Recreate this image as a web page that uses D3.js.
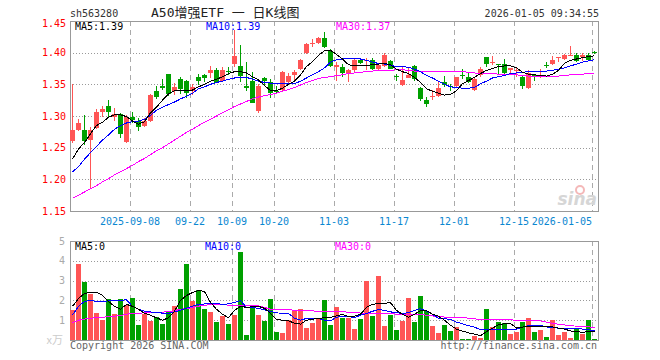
<html>

<head>
  <title>A50增强ETF 日K线图</title>
  <script src="https://d3js.org/d3.v7.min.js"></script>
  <style>
    body { margin: 0; background: #fff; }
  </style>
</head>

<body>
  <div id="chart"></div>

  <script type="text/javascript">

    // Trading days shown on the chart
    var dates = [
      '2025-08-25', '2025-08-26', '2025-08-27', '2025-08-28', '2025-08-29',
      '2025-09-01', '2025-09-02', '2025-09-03', '2025-09-04', '2025-09-05',
      '2025-09-08', '2025-09-09', '2025-09-10', '2025-09-11', '2025-09-12',
      '2025-09-15', '2025-09-16', '2025-09-17', '2025-09-18', '2025-09-19',
      '2025-09-22', '2025-09-23', '2025-09-24', '2025-09-25', '2025-09-26',
      '2025-09-29', '2025-09-30', '2025-10-09', '2025-10-10',
      '2025-10-13', '2025-10-14', '2025-10-15', '2025-10-16', '2025-10-17',
      '2025-10-20', '2025-10-21', '2025-10-22', '2025-10-23', '2025-10-24',
      '2025-10-27', '2025-10-28', '2025-10-29', '2025-10-30', '2025-10-31',
      '2025-11-03', '2025-11-04', '2025-11-05', '2025-11-06', '2025-11-07',
      '2025-11-10', '2025-11-11', '2025-11-12', '2025-11-13', '2025-11-14',
      '2025-11-17', '2025-11-18', '2025-11-19', '2025-11-20', '2025-11-21',
      '2025-11-24', '2025-11-25', '2025-11-26', '2025-11-27', '2025-11-28',
      '2025-12-01', '2025-12-02', '2025-12-03', '2025-12-04', '2025-12-05',
      '2025-12-08', '2025-12-09', '2025-12-10', '2025-12-11', '2025-12-12',
      '2025-12-15', '2025-12-16', '2025-12-17', '2025-12-18', '2025-12-19',
      '2025-12-22', '2025-12-23', '2025-12-24', '2025-12-25', '2025-12-26',
      '2025-12-29', '2025-12-30', '2025-12-31', '2026-01-05'
    ];

    var openP = [
      1.260, 1.278, 1.278, 1.262, 1.281, 1.306, 1.315, 1.299, 1.303, 1.259,
      1.299, 1.292, 1.284, 1.292, 1.340, 1.347, 1.367, 1.339, 1.358, 1.355,
      1.339, 1.361, 1.365, 1.368, 1.373, 1.355, 1.371, 1.381, 1.379, 1.347,
      1.356, 1.307, 1.360, 1.353, 1.340, 1.340, 1.353, 1.365, 1.374, 1.399,
      1.414, 1.415, 1.423, 1.403, 1.378, 1.377, 1.365, 1.372, 1.388, 1.388,
      1.389, 1.375, 1.379, 1.387, 1.363, 1.349, 1.361, 1.379, 1.344, 1.326,
      1.330, 1.332, 1.354, 1.348, 1.347, 1.365, 1.361, 1.341, 1.365, 1.393,
      1.385, 1.382, 1.382, 1.372, 1.372, 1.361, 1.344, 1.364, 1.364, 1.381,
      1.382, 1.392, 1.389, 1.396, 1.396, 1.393, 1.396, 1.401
    ];
    var highP = [
      1.350, 1.295, 1.301, 1.283, 1.311, 1.315, 1.325, 1.312, 1.304, 1.301,
      1.306, 1.297, 1.297, 1.334, 1.347, 1.358, 1.367, 1.352, 1.361, 1.357,
      1.350, 1.367, 1.367, 1.379, 1.375, 1.377, 1.378, 1.436, 1.412, 1.386,
      1.369, 1.350, 1.362, 1.358, 1.347, 1.371, 1.368, 1.372, 1.390, 1.416,
      1.421, 1.424, 1.432, 1.405, 1.386, 1.382, 1.374, 1.390, 1.391, 1.391,
      1.391, 1.382, 1.399, 1.389, 1.367, 1.377, 1.377, 1.381, 1.346, 1.330,
      1.341, 1.354, 1.363, 1.351, 1.361, 1.374, 1.368, 1.360, 1.377, 1.393,
      1.395, 1.382, 1.390, 1.376, 1.375, 1.363, 1.372, 1.367, 1.374, 1.386,
      1.395, 1.393, 1.398, 1.410, 1.399, 1.400, 1.400, 1.402
    ];
    var lowP = [
      1.258, 1.277, 1.254, 1.185, 1.280, 1.298, 1.297, 1.292, 1.266, 1.258,
      1.289, 1.276, 1.283, 1.291, 1.327, 1.341, 1.331, 1.333, 1.334, 1.329,
      1.333, 1.349, 1.353, 1.360, 1.352, 1.353, 1.365, 1.378, 1.353, 1.339,
      1.320, 1.305, 1.347, 1.328, 1.337, 1.339, 1.350, 1.354, 1.373, 1.398,
      1.409, 1.413, 1.408, 1.378, 1.356, 1.361, 1.353, 1.370, 1.382, 1.372,
      1.372, 1.372, 1.378, 1.374, 1.356, 1.348, 1.360, 1.356, 1.324, 1.314,
      1.325, 1.330, 1.346, 1.340, 1.346, 1.358, 1.352, 1.339, 1.362, 1.378,
      1.381, 1.367, 1.367, 1.366, 1.361, 1.343, 1.343, 1.356, 1.360, 1.375,
      1.381, 1.386, 1.388, 1.394, 1.386, 1.387, 1.387, 1.398
    ];
    var closeP = [
      1.278, 1.289, 1.260, 1.278, 1.306, 1.311, 1.306, 1.303, 1.272, 1.298,
      1.294, 1.282, 1.292, 1.333, 1.331, 1.344, 1.336, 1.346, 1.343, 1.336,
      1.346, 1.354, 1.361, 1.372, 1.353, 1.372, 1.370, 1.394, 1.363, 1.344,
      1.321, 1.347, 1.355, 1.335, 1.339, 1.369, 1.363, 1.370, 1.388, 1.414,
      1.416, 1.423, 1.409, 1.379, 1.381, 1.367, 1.372, 1.388, 1.384, 1.389,
      1.374, 1.381, 1.396, 1.375, 1.362, 1.357, 1.365, 1.358, 1.326, 1.320,
      1.331, 1.344, 1.349, 1.347, 1.361, 1.364, 1.353, 1.358, 1.374, 1.382,
      1.386, 1.381, 1.368, 1.375, 1.373, 1.347, 1.368, 1.363, 1.365, 1.380,
      1.389, 1.393, 1.396, 1.397, 1.387, 1.396, 1.388, 1.400
    ];

    // Moving averages as drawn on the chart
    var ma5 = [
      1.232, 1.248, 1.258, 1.272, 1.285, 1.290, 1.298, 1.302, 1.302, 1.299,
      1.292, 1.287, 1.291, 1.305, 1.314, 1.325, 1.335, 1.340, 1.341, 1.341,
      1.341, 1.346, 1.350, 1.355, 1.358, 1.362, 1.367, 1.370, 1.370, 1.368,
      1.362, 1.357, 1.348, 1.340, 1.340, 1.344, 1.350, 1.355, 1.365, 1.378,
      1.386, 1.396, 1.403, 1.404, 1.397, 1.390, 1.381, 1.379, 1.379, 1.380,
      1.381, 1.382, 1.383, 1.381, 1.374, 1.370, 1.367, 1.361, 1.353, 1.343,
      1.339, 1.336, 1.333, 1.334, 1.340, 1.351, 1.356, 1.361, 1.367, 1.372,
      1.375, 1.378, 1.379, 1.379, 1.376, 1.369, 1.366, 1.365, 1.364, 1.363,
      1.366, 1.372, 1.383, 1.388, 1.390, 1.392, 1.394, 1.395
    ];
    var ma10 = [
      1.212, 1.220, 1.232, 1.242, 1.252, 1.262, 1.270, 1.279, 1.285, 1.289,
      1.291, 1.292, 1.295, 1.301, 1.309, 1.314, 1.318, 1.322, 1.327, 1.331,
      1.336, 1.343, 1.346, 1.350, 1.353, 1.355, 1.358, 1.360, 1.361, 1.361,
      1.358, 1.355, 1.353, 1.352, 1.352, 1.352, 1.352, 1.351, 1.355, 1.360,
      1.365, 1.370, 1.376, 1.385, 1.389, 1.390, 1.391, 1.391, 1.390, 1.388,
      1.385, 1.383, 1.382, 1.380, 1.378, 1.378, 1.377, 1.374, 1.370, 1.364,
      1.360, 1.355, 1.350, 1.346, 1.345, 1.344, 1.344, 1.345, 1.351, 1.355,
      1.360, 1.362, 1.364, 1.367, 1.368, 1.369, 1.370, 1.370, 1.370, 1.371,
      1.372, 1.374, 1.376, 1.379, 1.382, 1.385, 1.387, 1.389
    ];
    var ma30 = [
      1.170, 1.175, 1.180, 1.185, 1.190, 1.196, 1.201, 1.207, 1.212, 1.217,
      1.222, 1.228, 1.233, 1.239, 1.245, 1.250, 1.256, 1.262, 1.268, 1.274,
      1.279, 1.285, 1.290, 1.295, 1.300, 1.305, 1.310, 1.315, 1.319, 1.323,
      1.327, 1.330, 1.332, 1.334, 1.336, 1.339, 1.342, 1.345, 1.349, 1.353,
      1.356, 1.359, 1.361, 1.362, 1.364, 1.365, 1.367, 1.368, 1.369, 1.370,
      1.371, 1.372, 1.372, 1.372, 1.373, 1.373, 1.372, 1.371, 1.370, 1.370,
      1.370, 1.370, 1.370, 1.371, 1.371, 1.370, 1.369, 1.368, 1.367, 1.367,
      1.367, 1.366, 1.366, 1.366, 1.365, 1.364, 1.363, 1.363, 1.362, 1.362,
      1.362, 1.363, 1.364, 1.365, 1.366, 1.366, 1.367, 1.368
    ];

    // Volume (x万) and its moving averages
    var volume = [
      1.50, 3.82, 2.93, 2.31, 1.37, 1.03, 2.06, 1.31, 2.06, 1.75,
      2.12, 0.75, 1.33, 0.97, 1.17, 0.80, 1.47, 1.71, 2.56, 3.82,
      1.98, 2.51, 1.56, 1.41, 0.90, 1.21, 0.80, 1.26, 4.42, 0.25,
      1.64, 1.26, 0.97, 2.06, 0.39, 0.35, 1.01, 1.48, 1.56, 0.60,
      0.86, 1.10, 2.01, 0.74, 1.66, 1.10, 1.10, 0.55, 1.06, 2.99,
      1.20, 3.24, 0.70, 1.27, 0.50, 0.97, 2.11, 0.90, 2.21, 1.48,
      0.70, 0.35, 0.74, 0.45, 0.64, 0.05, 0.05, 0.20, 0.10, 1.56,
      0.65, 0.90, 0.86, 0.30, 0.40, 0.90, 1.10, 0.40, 0.50, 0.15,
      1.00, 0.25, 0.40, 0.10, 0.55, 0.30, 1.00, 0.05
    ];
    var volMa5 = [
      1.70, 2.10, 2.35, 2.40, 2.40, 2.26, 1.95, 1.70, 1.55, 1.80,
      1.70, 1.55, 1.35, 1.25, 1.12, 1.00, 1.12, 1.45, 2.00, 2.25,
      2.40, 2.50, 2.45, 1.90, 1.55, 1.30, 1.12, 1.50, 1.70, 1.65,
      1.68, 1.70, 1.60, 1.35, 1.05, 1.00, 0.97, 0.85, 0.80, 1.00,
      1.05, 1.10, 1.12, 1.14, 1.22, 1.30, 1.18, 1.20, 1.30, 1.65,
      1.80, 1.84, 1.86, 1.88, 1.50, 1.30, 1.15, 1.30, 1.48, 1.48,
      1.30, 1.20, 1.00, 0.75, 0.55, 0.45, 0.36, 0.30, 0.22, 0.42,
      0.60, 0.77, 0.82, 0.84, 0.60, 0.65, 0.70, 0.68, 0.67, 0.67,
      0.66, 0.60, 0.55, 0.46, 0.42, 0.39, 0.42, 0.42
    ];
    var volMa10 = [
      1.26, 1.70, 1.95, 2.00, 1.95, 1.93, 1.98, 1.99, 2.00, 2.03,
      1.70, 1.55, 1.45, 1.42, 1.38, 1.36, 1.34, 1.42, 1.50, 1.60,
      1.71, 1.80, 1.82, 1.84, 1.83, 1.81, 1.82, 1.90, 2.00, 1.64,
      1.64, 1.60, 1.52, 1.45, 1.37, 1.35, 1.34, 1.10, 1.00, 1.09,
      1.09, 1.09, 1.00, 0.97, 1.15, 1.21, 1.18, 1.14, 1.25, 1.34,
      1.45, 1.54, 1.50, 1.42, 1.38, 1.34, 1.38, 1.50, 1.58, 1.45,
      1.30, 1.10, 1.07, 1.05, 0.90, 0.82, 0.72, 0.65, 0.52, 0.54,
      0.54, 0.54, 0.54, 0.54, 0.55, 0.65, 0.72, 0.74, 0.75, 0.66,
      0.62, 0.60, 0.59, 0.59, 0.59, 0.55, 0.52, 0.47
    ];
    var volMa30 = [
      0.87, 1.00, 1.06, 1.10, 1.13, 1.15, 1.18, 1.20, 1.24, 1.30,
      1.34, 1.35, 1.37, 1.38, 1.40, 1.41, 1.43, 1.48, 1.55, 1.59,
      1.64, 1.71, 1.75, 1.79, 1.81, 1.79, 1.76, 1.76, 1.76, 1.76,
      1.76, 1.72, 1.65, 1.55, 1.54, 1.53, 1.52, 1.51, 1.50, 1.49,
      1.47, 1.45, 1.43, 1.42, 1.42, 1.42, 1.41, 1.40, 1.36, 1.34,
      1.33, 1.33, 1.32, 1.32, 1.31, 1.30, 1.30, 1.28, 1.27, 1.26,
      1.22, 1.17, 1.16, 1.15, 1.14, 1.14, 1.10, 1.07, 1.04, 1.04,
      1.04, 1.04, 1.04, 1.03, 0.98, 0.97, 0.97, 0.97, 0.97, 0.90,
      0.84, 0.80, 0.76, 0.72, 0.70, 0.68, 0.67, 0.62
    ];

    // Axis ticks
    var tickDates = ['2025-09-08', '2025-09-22', '2025-10-09', '2025-10-20', '2025-11-03',
                     '2025-11-17', '2025-12-01', '2025-12-15', '2026-01-05'];
    var tickLabels = ['2025-09-08', '09-22', '10-09', '10-20', '11-03',
                      '11-17', '12-01', '12-15', '2026-01-05'];
    var priceTicks = [1.15, 1.20, 1.25, 1.30, 1.35, 1.40, 1.45];
    var volTicks = [1, 2, 3, 4, 5];

    var mono = 'DejaVu Sans Mono, monospace';
    var upColor = '#ff5555';
    var downColor = '#00a000';

    // Panel geometry
    var left = 70, right = 598;
    var priceTop = 21, priceBottom = 211;
    var volTop = 241, volBottom = 340;

    var x = d3.scaleBand().domain(dates).range([left, right]);
    var y = d3.scaleLinear().domain([1.15, 1.45]).range([priceBottom, priceTop]);
    var yVol = d3.scaleLinear().domain([0, 5]).range([volBottom, volTop]);

    var svg = d3.select('#chart')
                .append('svg')
                  .attr('width', 660)
                  .attr('height', 360)
                  .style('font-family', mono);

    // Header
    svg.append('text')
         .text('sh563280')
         .attr('x', 70).attr('y', 17)
         .style('font-size', '10px').style('fill', '#333');

    svg.append('text')
         .text('A50增强ETF 一 日K线图')
         .attr('x', 151).attr('y', 17)
         .style('font-family', 'DejaVu Sans Mono, Noto Sans CJK SC')
         .style('font-size', '13px').style('fill', '#222');

    svg.append('text')
         .text('2026-01-05 09:34:55')
         .attr('x', 599).attr('y', 17)
         .attr('text-anchor', 'end')
         .style('font-size', '10px').style('fill', '#333');

    // Grid lines
    function drawGrid(top, bottom, levels, scaleY) {
      svg.append('g').selectAll('line')
           .data(levels)
           .enter().append('line')
             .attr('x1', left).attr('x2', right)
             .attr('y1', function(d) { return Math.round(scaleY(d)) + 0.5; })
             .attr('y2', function(d) { return Math.round(scaleY(d)) + 0.5; })
             .style('stroke', '#999')
             .style('stroke-dasharray', '1,2');

      svg.append('g').selectAll('line')
           .data(tickDates)
           .enter().append('line')
             .attr('x1', function(d) { return x(d) + 0.5; })
             .attr('x2', function(d) { return x(d) + 0.5; })
             .attr('y1', top).attr('y2', bottom)
             .style('stroke', '#aaa')
             .style('stroke-dasharray', '5,4');

      svg.append('rect')
           .attr('x', left + 0.5).attr('y', top + 0.5)
           .attr('width', right - left).attr('height', bottom - top)
           .style('fill', 'none')
           .style('stroke', '#999');
    }

    drawGrid(priceTop, priceBottom, [1.20, 1.25, 1.30, 1.35, 1.40], y);
    drawGrid(volTop, volBottom, [1, 2, 3, 4], yVol);

    // Price labels
    svg.append('g').selectAll('text')
         .data(priceTicks)
         .enter().append('text')
           .text(function(d) { return d.toFixed(2); })
           .attr('x', 66)
           .attr('y', function(d) { return Math.max(y(d), 23.5) + 3.5; })
           .attr('text-anchor', 'end')
           .style('font-size', '10px')
           .style('fill', '#f00');

    svg.append('g').selectAll('text')
         .data(volTicks)
         .enter().append('text')
           .text(function(d) { return d; })
           .attr('x', 65)
           .attr('y', function(d) { return yVol(d) + 3.5; })
           .attr('text-anchor', 'end')
           .style('font-size', '10px')
           .style('fill', '#aaa');

    svg.append('text')
         .text('x万')
         .attr('x', 63).attr('y', 344)
         .attr('text-anchor', 'end')
         .style('font-family', 'Noto Sans CJK SC')
         .style('font-size', '11px')
         .style('fill', '#ccc');

    // Date labels
    svg.append('g').selectAll('text')
         .data(tickDates)
         .enter().append('text')
           .text(function(d, i) { return tickLabels[i]; })
           .attr('x', function(d, i) { return i === tickDates.length - 1 ? 592 : x(d); })
           .attr('y', 225)
           .attr('text-anchor', function(d, i) { return i === tickDates.length - 1 ? 'end' : 'middle'; })
           .style('font-size', '10px')
           .style('fill', '#0b87d1');

    // Sina watermark
    svg.append('circle')
         .attr('cx', 580).attr('cy', 190).attr('r', 4)
         .style('fill', 'none')
         .style('stroke', '#f4b8b8')
         .style('stroke-width', 2);
    svg.append('text')
         .text('sina')
         .attr('x', 597).attr('y', 205)
         .attr('text-anchor', 'end')
         .style('font-family', 'DejaVu Sans')
         .style('font-style', 'italic')
         .style('font-weight', 'bold')
         .style('font-size', '17px')
         .style('fill', '#d6d6d6');

    var idx = d3.range(dates.length);
    function colorOf(i) { return closeP[i] > openP[i] ? upColor : downColor; }

    // Candles
    var candles = svg.append('g')
                     .attr('class', 'candles')
                     .style('shape-rendering', 'crispEdges');

    candles.selectAll('line')
             .data(idx)
             .enter().append('line')
               .attr('x1', function(i) { return x(dates[i]) + 2.5; })
               .attr('x2', function(i) { return x(dates[i]) + 2.5; })
               .attr('y1', function(i) { return Math.round(y(highP[i])); })
               .attr('y2', function(i) { return Math.round(y(lowP[i])); })
               .style('stroke', colorOf);

    candles.selectAll('rect')
             .data(idx)
             .enter().append('rect')
               .attr('x', function(i) { return x(dates[i]); })
               .attr('y', function(i) { return Math.round(y(Math.max(openP[i], closeP[i]))); })
               .attr('width', 5)
               .attr('height', function(i) {
                 return Math.max(1, Math.round(Math.abs(y(openP[i]) - y(closeP[i]))));
               })
               .style('fill', colorOf);

    // Volume bars
    svg.append('g').selectAll('rect')
         .data(idx)
         .enter().append('rect')
           .attr('x', function(i) { return x(dates[i]); })
           .attr('y', function(i) { return Math.round(yVol(volume[i])); })
           .attr('width', 5)
           .attr('height', function(i) { return Math.max(1, volBottom - Math.round(yVol(volume[i]))); })
           .style('fill', colorOf);

    // Moving average lines (pixel look, like the original)
    function drawLine(values, scaleY, color) {
      var lineFn = d3.line()
                     .x(function(d, i) { return x(dates[i]) + 2.5; })
                     .y(function(d) { return scaleY(d); });
      svg.append('path')
           .attr('d', lineFn(values))
           .style('fill', 'none')
           .style('stroke', color)
           .style('stroke-width', 1)
           .style('shape-rendering', 'crispEdges');
    }

    drawLine(ma30, y, '#ff00ff');
    drawLine(ma10, y, '#0000ff');
    drawLine(ma5, y, '#000');
    drawLine(volMa30, yVol, '#ff00ff');
    drawLine(volMa10, yVol, '#0000ff');
    drawLine(volMa5, yVol, '#000');

    // Legend texts
    var legends = [
      {t: 'MA5:1.39', x: 75, y: 30, c: '#000'},
      {t: 'MA10:1.39', x: 206, y: 30, c: '#0000ff'},
      {t: 'MA30:1.37', x: 336, y: 30, c: '#ff00ff'},
      {t: 'MA5:0', x: 75, y: 250, c: '#000'},
      {t: 'MA10:0', x: 205, y: 250, c: '#0000ff'},
      {t: 'MA30:0', x: 335, y: 250, c: '#ff00ff'}
    ];
    svg.append('g').selectAll('text')
         .data(legends)
         .enter().append('text')
           .text(function(d) { return d.t; })
           .attr('x', function(d) { return d.x; })
           .attr('y', function(d) { return d.y; })
           .style('font-size', '10px')
           .style('fill', function(d) { return d.c; });

    // Footer
    svg.append('text')
         .text('Copyright 2026 SINA.COM')
         .attr('x', 70).attr('y', 349)
         .style('font-size', '10px').style('fill', '#666');
    svg.append('text')
         .text('http://finance.sina.com.cn')
         .attr('x', 597).attr('y', 349)
         .attr('text-anchor', 'end')
         .style('font-size', '10px').style('fill', '#666');

  </script>
</body>

</html>
